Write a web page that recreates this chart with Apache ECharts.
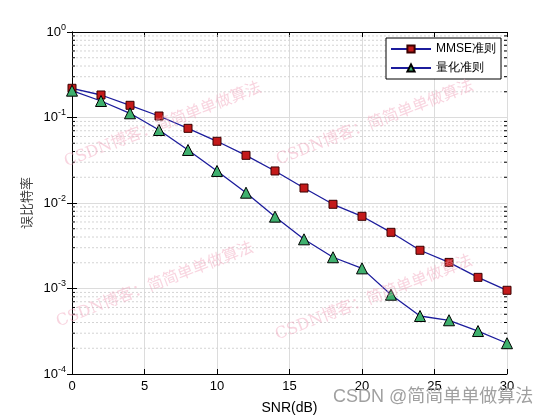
<!DOCTYPE html>
<html>
<head>
<meta charset="utf-8">
<script src="https://cdn.jsdelivr.net/npm/echarts@6/dist/echarts.min.js"></script>
<style>html,body{margin:0;padding:0;background:#fff;}#c{width:560px;height:420px;}</style>
</head>
<body>
<div id="c"></div>
<script>
const snr = [0,2,4,6,8,10,12,14,16,18,20,22,24,26,28,30];
const berMMSE = [0.2196,0.1833,0.1389,0.1041,0.0747,0.0527,0.0361,0.0237,0.01497,0.00966,0.00699,0.00454,0.0028,0.00202,0.00135,0.000953];
const berQuant = [0.206,0.156,0.112,0.0714,0.0417,0.0237,0.0132,0.00692,0.00376,0.00232,0.00172,0.000846,0.000477,0.000425,0.000318,0.000229];
const seriesNames = ['MMSE准则','量化准则'];
const xTicks = [0,5,10,15,20,25,30];
const yDecades = [1e-4,1e-3,1e-2,1e-1,1];
const minorMultipliers = [2,3,4,5,6,7,8,9];
const xLabel = 'SNR(dB)';
const yLabel = '误比特率';
const watermark = 'CSDN博客：简简单单做算法';
const footer = 'CSDN @简简单单做算法';

const minorVals = [];
for (let i = 0; i < yDecades.length - 1; i++) {
  minorMultipliers.forEach(m => minorVals.push([0, yDecades[i] * m]));
}

const chart = echarts.init(document.getElementById('c'), null, {renderer: 'canvas'});
const font = 'Liberation Sans, Arial, sans-serif';

function expLabel(v) {
  const e = Math.round(Math.log10(v));
  return '{b|10}{s|' + e + '}';
}

const wmStyle = {
  fill: 'rgba(240,160,185,0.45)',
  font: '16px "DejaVu Serif", "Noto Sans CJK SC", serif',
  align: 'center', verticalAlign: 'middle'
};
const rot = 21 * Math.PI / 180;

const option = {
  animation: false,
  backgroundColor: '#fff',
  grid: {left: 72, right: 53, top: 32, bottom: 46, containLabel: false},
  legend: {
    data: seriesNames,
    orient: 'vertical',
    left: 386, top: 38,
    itemWidth: 40, itemHeight: 9, itemGap: 7,
    borderColor: '#000', borderWidth: 1, borderRadius: 0,
    backgroundColor: '#fff',
    padding: [5, 5, 5, 4],
    textStyle: {fontFamily: font, fontSize: 12, color: '#000'}
  },
  xAxis: [{
    type: 'value', min: 0, max: 30, interval: 5, position: 'bottom',
    name: xLabel, nameLocation: 'middle', nameGap: 27,
    nameTextStyle: {fontFamily: font, fontSize: 14, color: '#000'},
    axisLine: {show: true, lineStyle: {color: '#000', width: 1}},
    axisTick: {show: true, inside: true, length: 5, lineStyle: {color: '#000'}},
    axisLabel: {fontFamily: font, fontSize: 13, color: '#000', margin: 6},
    splitLine: {show: true, lineStyle: {color: '#dcdcdc', width: 1}}
  }, {
    type: 'value', min: 0, max: 30, interval: 5, position: 'top',
    axisLine: {show: true, lineStyle: {color: '#000', width: 1}},
    axisTick: {show: true, inside: true, length: 5, lineStyle: {color: '#000'}},
    axisLabel: {show: false}, splitLine: {show: false}
  }],
  yAxis: [{
    type: 'log', logBase: 10, min: 1e-4, max: 1, position: 'left',
    name: yLabel, nameLocation: 'middle', nameGap: 36, nameRotate: 90,
    nameTextStyle: {fontFamily: '"Noto Sans CJK SC", sans-serif', fontSize: 13, color: '#444'},
    axisLine: {show: true, lineStyle: {color: '#000', width: 1}},
    axisTick: {show: true, inside: true, length: 5, lineStyle: {color: '#000'}},
    axisLabel: {
      margin: 6, formatter: expLabel,
      rich: {
        b: {fontFamily: font, fontSize: 13, color: '#000'},
        s: {fontFamily: font, fontSize: 9, color: '#000', verticalAlign: 'top', padding: [0, 0, 9, 0]}
      }
    },
    splitLine: {show: true, lineStyle: {color: '#dcdcdc', width: 1}}
  }, {
    type: 'log', logBase: 10, min: 1e-4, max: 1, position: 'right',
    axisLine: {show: true, lineStyle: {color: '#000', width: 1}},
    axisTick: {show: true, inside: true, length: 5, lineStyle: {color: '#000'}},
    axisLabel: {show: false}, splitLine: {show: false}
  }],
  series: [{
    type: 'custom', name: 'minor', silent: true, z: 1,
    xAxisIndex: 0, yAxisIndex: 0,
    data: minorVals,
    renderItem: function (params, api) {
      const v = api.value(1);
      const p1 = api.coord([0, v]);
      const p2 = api.coord([30, v]);
      return {
        type: 'group',
        children: [
          {type: 'line', shape: {x1: p1[0], y1: p1[1], x2: p2[0], y2: p2[1]},
           style: {stroke: '#d4d4d4', lineWidth: 1, lineDash: [2, 2]}},
          {type: 'line', shape: {x1: p1[0], y1: p1[1], x2: p1[0] + 3, y2: p1[1]},
           style: {stroke: '#000', lineWidth: 1}},
          {type: 'line', shape: {x1: p2[0] - 3, y1: p2[1], x2: p2[0], y2: p2[1]},
           style: {stroke: '#000', lineWidth: 1}}
        ]
      };
    }
  }, {
    type: 'line', name: seriesNames[0], z: 3,
    data: snr.map((x, i) => [x, berMMSE[i]]),
    symbol: 'rect', symbolSize: 8,
    lineStyle: {color: '#1c1c9c', width: 1.3},
    itemStyle: {color: '#c41a1a', borderColor: '#3a0000', borderWidth: 1}
  }, {
    type: 'line', name: seriesNames[1], z: 3,
    data: snr.map((x, i) => [x, berQuant[i]]),
    symbol: 'triangle', symbolSize: 11,
    lineStyle: {color: '#1c1c9c', width: 1.3},
    itemStyle: {color: '#3fb06e', borderColor: '#000', borderWidth: 1}
  }],
  graphic: [
    {type: 'text', x: 163, y: 125, rotation: rot, z: 100, silent: true, style: Object.assign({text: watermark}, wmStyle)},
    {type: 'text', x: 375, y: 123, rotation: rot, z: 100, silent: true, style: Object.assign({text: watermark}, wmStyle)},
    {type: 'text', x: 155, y: 285, rotation: rot, z: 100, silent: true, style: Object.assign({text: watermark}, wmStyle)},
    {type: 'text', x: 374, y: 298, rotation: rot, z: 100, silent: true, style: Object.assign({text: watermark}, wmStyle)},
    {type: 'text', left: 333, top: 388, z: 100, silent: true,
     style: {text: footer, fill: 'rgba(150,150,150,0.9)', font: '18px "Liberation Sans", "Noto Sans CJK SC", sans-serif'}}
  ]
};
chart.setOption(option);
</script>
</body>
</html>
